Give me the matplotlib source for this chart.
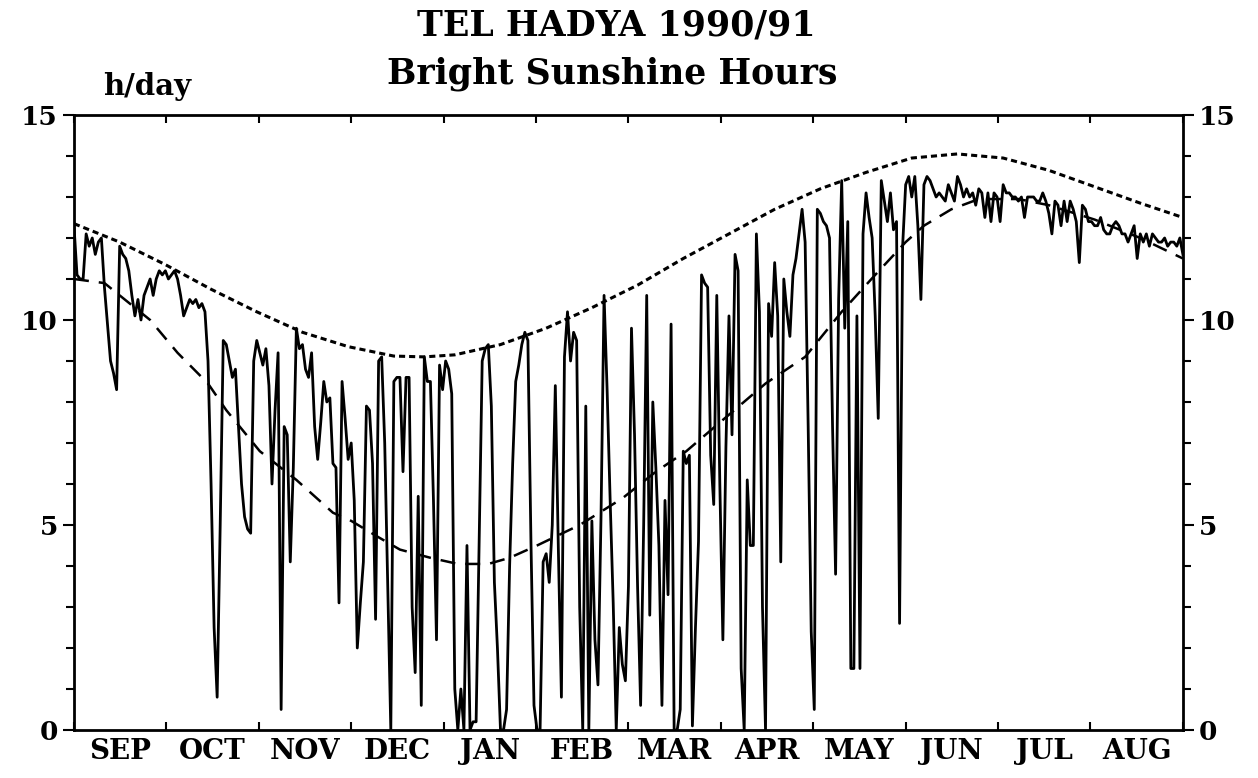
import numpy as np
import matplotlib.pyplot as plt
from matplotlib.ticker import MultipleLocator

# daily bright sunshine hours, Sep 1990 - Aug 1991
sep = [12.3, 11.1, 11.0, 11.0, 12.1, 11.8, 12.0, 11.6, 11.9, 12.0, 10.8, 9.9, 9.0, 8.7, 8.3,
       11.8, 11.6, 11.5, 11.2, 10.6, 10.1, 10.5, 10.0, 10.6, 10.8, 11.0, 10.6, 11.0, 11.2, 11.1]
oct_ = [11.2, 11.0, 11.1, 11.2, 11.0, 10.6, 10.1, 10.3, 10.5, 10.4, 10.5, 10.3, 10.4, 10.2, 9.0,
        6.0, 2.5, 0.8, 5.0, 9.5, 9.4, 9.0, 8.6, 8.8, 7.4, 6.0, 5.2, 4.9, 4.8, 9.0, 9.5]
nov = [9.2, 8.9, 9.3, 8.4, 6.0, 7.8, 9.2, 0.5, 7.4, 7.2, 4.1, 6.4, 9.8, 9.3, 9.4,
       8.8, 8.6, 9.2, 7.4, 6.6, 7.5, 8.5, 8.0, 8.1, 6.5, 6.4, 3.1, 8.5, 7.6, 6.6]
dec = [7.0, 5.6, 2.0, 3.1, 4.1, 7.9, 7.8, 6.5, 2.7, 9.0, 9.1, 7.0, 3.5, 0.0, 8.5, 8.6,
       8.6, 6.3, 8.6, 8.6, 3.0, 1.4, 5.7, 0.6, 9.1, 8.5, 8.5, 5.6, 2.2, 8.9, 8.3]
jan = [9.0, 8.8, 8.2, 1.0, 0.0, 1.0, 0.0, 4.5, 0.0, 0.2, 0.2, 4.6, 9.0, 9.3, 9.4, 7.9,
       3.6, 2.0, 0.0, 0.0, 0.5, 4.0, 6.5, 8.5, 8.9, 9.4, 9.7, 9.5, 4.6, 0.6, 0.0]
feb = [0.0, 4.1, 4.3, 3.6, 5.0, 8.4, 4.4, 0.8, 9.1, 10.2, 9.0, 9.7, 9.5, 3.0, 0.0,
       7.9, 0.0, 5.1, 2.2, 1.1, 5.2, 10.6, 8.3, 5.6, 3.1, 0.0, 2.5, 1.6]
mar = [1.2, 3.5, 9.8, 7.2, 3.5, 0.6, 5.0, 10.6, 2.8, 8.0, 6.4, 4.5, 0.6, 5.6, 3.3, 9.9,
       0.0, 0.0, 0.5, 6.8, 6.5, 6.7, 0.1, 2.5, 4.6, 11.1, 10.9, 10.8, 6.7, 5.5, 10.6]
apr = [6.0, 2.2, 6.9, 10.1, 7.2, 11.6, 11.2, 1.5, 0.0, 6.1, 4.5, 4.5, 12.1, 10.2, 3.0,
       0.0, 10.4, 9.6, 11.4, 10.1, 4.1, 11.0, 10.2, 9.6, 11.1, 11.5, 12.1, 12.7, 11.9, 7.4]
may = [2.4, 0.5, 12.7, 12.6, 12.4, 12.3, 12.0, 7.4, 3.8, 10.5, 13.4, 9.8, 12.4, 1.5, 1.5,
       10.1, 1.5, 12.1, 13.1, 12.5, 12.0, 10.1, 7.6, 13.4, 12.9, 12.4, 13.1, 12.2, 12.4, 2.6, 11.8]
jun = [13.3, 13.5, 13.0, 13.5, 12.3, 10.5, 13.3, 13.5, 13.4, 13.2, 13.0, 13.1, 13.0, 12.9, 13.3,
       13.1, 12.9, 13.5, 13.3, 13.0, 13.2, 13.0, 13.1, 12.8, 13.2, 13.1, 12.5, 13.1, 12.4, 13.1]
jul = [13.0, 12.4, 13.3, 13.1, 13.1, 13.0, 13.0, 12.9, 13.0, 12.5, 13.0, 13.0, 13.0, 12.9, 12.9,
       13.1, 12.9, 12.6, 12.1, 12.9, 12.8, 12.3, 12.9, 12.4, 12.9, 12.7, 12.4, 11.4, 12.8, 12.7, 12.4]
aug = [12.4, 12.3, 12.3, 12.5, 12.2, 12.1, 12.1, 12.3, 12.4, 12.3, 12.1, 12.1, 11.9, 12.1, 12.3,
       11.5, 12.1, 11.9, 12.1, 11.8, 12.1, 12.0, 11.9, 11.9, 12.0, 11.8, 11.9, 11.9, 11.8, 12.0, 11.6]

# maximum possible sunshine (dotted)
max_days = [0, 15, 30, 45, 60, 75, 90, 105, 115, 125, 140, 155, 170, 185, 200, 215, 230, 245,
            260, 275, 290, 305, 320, 335, 350, 364]
max_hours = [12.35, 11.9, 11.35, 10.75, 10.2, 9.7, 9.35, 9.12, 9.1, 9.15, 9.4, 9.8, 10.3, 10.85,
             11.5, 12.1, 12.7, 13.2, 13.6, 13.95, 14.05, 13.95, 13.65, 13.25, 12.85, 12.5]

# long-term mean (dashed)
mean_days = [0, 10, 25, 34, 44, 50, 61, 73, 85, 91, 100, 107, 117, 126, 136, 143, 152, 166, 180,
             191, 201, 212, 227, 240, 252, 263, 273, 279, 288, 297, 310, 320, 335, 350, 364]
mean_hours = [11.0, 10.9, 10.0, 9.2, 8.45, 7.8, 6.8, 6.1, 5.3, 5.1, 4.7, 4.4, 4.2, 4.05, 4.05,
              4.2, 4.5, 5.0, 5.65, 6.3, 6.8, 7.5, 8.45, 9.1, 10.2, 11.1, 11.9, 12.3, 12.7, 12.95,
              12.95, 12.8, 12.45, 12.0, 11.5]

months = ["SEP", "OCT", "NOV", "DEC", "JAN", "FEB", "MAR", "APR", "MAY", "JUN", "JUL", "AUG"]

sun = np.array(sep + oct_ + nov + dec + jan + feb + mar + apr + may + jun + jul + aug)
days = np.arange(len(sun))

plt.rcParams['font.family'] = ['DejaVu Serif']
plt.rcParams['font.weight'] = 'bold'

fig = plt.figure(figsize=(12.58, 7.78), dpi=100)
ax = fig.add_axes([0.0588, 0.0617, 0.8815, 0.7905])

ax.plot(days, sun, color="black", lw=2.0, zorder=3)
ax.plot(max_days, max_hours, color="black", lw=2.2, linestyle=(0, (2, 1.3)), zorder=2)
ax.plot(mean_days, mean_hours, color="black", lw=1.8, linestyle=(0, (6, 4)), zorder=2)

ax.set_xlim(0, 364)
ax.set_ylim(0, 15)

# month boundaries (ticks) and month names centred between them
edges = np.linspace(0, 364, 13)
ax.set_xticks(edges)
ax.set_xticklabels([])
ax.set_xticks((edges[:-1] + edges[1:]) / 2, minor=True)
ax.set_xticklabels(months, minor=True, fontsize=20, fontweight='bold')
ax.tick_params(axis='x', which='major', direction='in', length=6, width=1.5, top=True)
ax.tick_params(axis='x', which='minor', length=0, pad=6)

ax.set_yticks([0, 5, 10, 15])
ax.yaxis.set_minor_locator(MultipleLocator(1))
ax.tick_params(axis='y', which='both', direction='out', left=True, right=True,
               labelleft=True, labelright=True, labelsize=19, width=1.5)
ax.tick_params(axis='y', which='major', length=8)
ax.tick_params(axis='y', which='minor', length=6)

for s in ax.spines.values():
    s.set_linewidth(2.0)

fig.text(0.49, 0.967, "TEL HADYA 1990/91", ha="center", va="center", fontsize=25, fontweight='bold')
fig.text(0.487, 0.905, "Bright Sunshine Hours", ha="center", va="center", fontsize=25, fontweight='bold')
fig.text(0.117, 0.889, "h/day", ha="center", va="center", fontsize=21, fontweight='bold')

fig.savefig("out.png", dpi=100, facecolor="white")
